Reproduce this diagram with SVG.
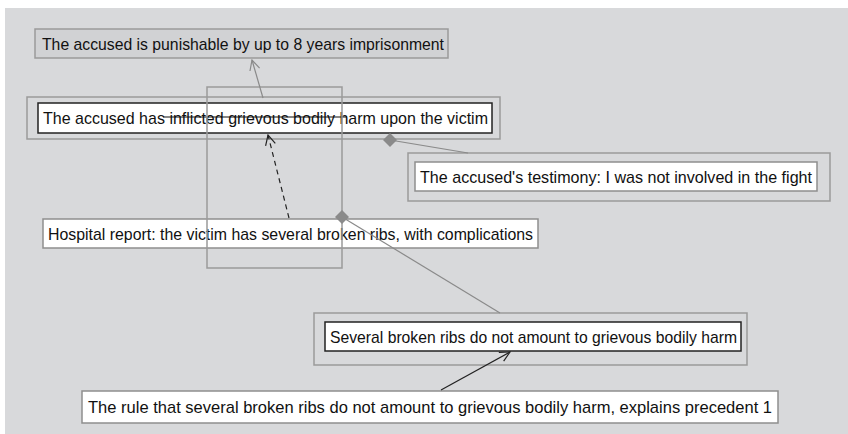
<svg xmlns="http://www.w3.org/2000/svg" width="848" height="434" viewBox="0 0 848 434">
<defs>
<style>
.t{font-family:"Liberation Sans",Arial,sans-serif;font-size:17px;fill:#111}
.outer{fill:none;stroke:#9a9a9a;stroke-width:1.5}
.box{fill:#fff;stroke:#8e8e8e;stroke-width:1.5}
.boxd{fill:#fff;stroke:#222;stroke-width:1.5}
.c{fill:none;stroke-width:1.2}
</style>
<marker id="ag" viewBox="0 0 12 12" refX="11" refY="6" markerWidth="12" markerHeight="12" markerUnits="userSpaceOnUse" orient="auto"><path d="M1,1 L11,6 L1,11" fill="none" stroke="#8a8a8a" stroke-width="1.2"/></marker>
<marker id="ak" viewBox="0 0 12 12" refX="11" refY="6" markerWidth="12" markerHeight="12" markerUnits="userSpaceOnUse" orient="auto"><path d="M1,1 L11,6 L1,11" fill="none" stroke="#222" stroke-width="1.2"/></marker>
</defs>
<rect x="0" y="0" width="848" height="434" fill="#fff"/>
<rect x="5" y="8" width="843" height="426" fill="#d8d9db"/>

<g id="n1">
<rect x="35" y="29" width="413" height="29" fill="#d1d2d4" stroke="#9a9a9a" stroke-width="1.5"/>
<text class="t" x="42" y="50" textLength="402" lengthAdjust="spacingAndGlyphs">The accused is punishable by up to 8 years imprisonment</text>
</g>

<g id="n2">
<rect class="outer" x="27" y="97" width="473" height="42"/>
<rect class="boxd" x="38" y="103" width="454" height="30"/>
<text class="t" x="43" y="124" textLength="445" lengthAdjust="spacingAndGlyphs">The accused has inflicted grievous bodily harm upon the victim</text>
<line x1="163" y1="117" x2="347" y2="117" stroke="#111" stroke-width="1.2"/>
</g>

<g id="n3">
<rect class="outer" x="408" y="153" width="422" height="48"/>
<rect class="box" x="415" y="162" width="402" height="29" stroke="#555"/>
<text class="t" x="420" y="183" textLength="392" lengthAdjust="spacingAndGlyphs">The accused's testimony: I was not involved in the fight</text>
</g>

<g id="n4">
<rect class="box" x="43" y="219" width="495" height="29"/>
<text class="t" x="48" y="240" textLength="485" lengthAdjust="spacingAndGlyphs">Hospital report: the victim has several broken ribs, with complications</text>
</g>

<g id="n5">
<rect class="outer" x="314" y="313" width="433" height="52"/>
<rect class="boxd" x="325" y="322" width="416" height="29"/>
<text class="t" x="330" y="343" textLength="407" lengthAdjust="spacingAndGlyphs">Several broken ribs do not amount to grievous bodily harm</text>
</g>

<g id="n6">
<rect class="box" x="82" y="391" width="696" height="32"/>
<text class="t" x="88" y="413" textLength="684" lengthAdjust="spacingAndGlyphs">The rule that several broken ribs do not amount to grievous bodily harm, explains precedent 1</text>
</g>

<g id="frame">
<rect x="207" y="87" width="135" height="181" fill="none" stroke="#9a9a9a" stroke-width="1.5"/>
</g>

<g id="connectors">
<line class="c" x1="263" y1="98" x2="252" y2="60" stroke="#8a8a8a" marker-end="url(#ag)"/>
<line class="c" x1="289" y1="218" x2="268" y2="135" stroke="#222" stroke-dasharray="5,4" marker-end="url(#ak)"/>
<line class="c" x1="441" y1="390" x2="510" y2="352" stroke="#222" marker-end="url(#ak)"/>
<line class="c" x1="390" y1="140" x2="468" y2="153" stroke="#8a8a8a"/>
<polygon points="390,133 397,140 390,147 383,140" fill="#8a8a8a"/>
<line class="c" x1="342" y1="217" x2="500" y2="313" stroke="#8a8a8a"/>
<polygon points="342,210 349,217 342,224 335,217" fill="#8a8a8a"/>
</g>
</svg>
